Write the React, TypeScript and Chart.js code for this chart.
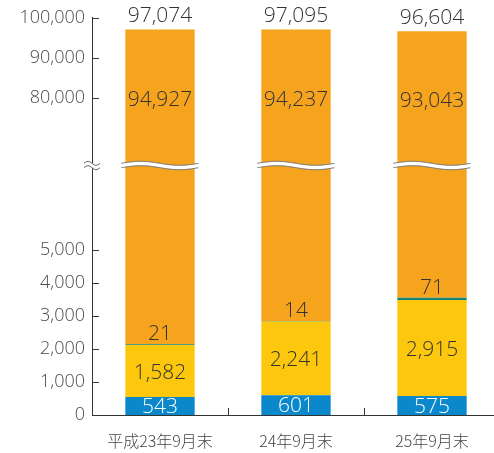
import { useEffect, useRef } from "react";
import { Chart, registerables } from "chart.js";

Chart.register(...registerables);

const categories = ["平成23年9月末", "24年9月末", "25年9月末"];
const blueValues = [543, 601, 575];
const yellowValues = [1582, 2241, 2915];
const greenValues = [21, 14, 71];
const orangeValues = [94927, 94237, 93043];
const totals = [97074, 97095, 96604];
const lowerTicks = [0, 1000, 2000, 3000, 4000, 5000];
const upperTicks = [80000, 90000, 100000];

// broken axis mapping
const LOW_MAX = 7576;
const UP_MIN = 63000;
const LOW_K = 0.033;
const UP_K = 0.004;
const BREAK_T = LOW_MAX * LOW_K;
function t(v: number): number {
  return v <= LOW_MAX ? v * LOW_K : BREAK_T + (v - UP_MIN) * UP_K;
}

const allTicks = [...lowerTicks, ...upperTicks];
const tickLabels = allTicks.map((v) => v.toLocaleString("en-US"));

const BLUE = "#0a88cb";
const YELLOW = "#fcc70d";
const GREEN = "#0f8576";
const ORANGE = "#f6a41d";
const TEXT = "#333333";
const FONT = '"Open Sans", "Noto Sans", sans-serif';

function cumulative(i: number, upto: number): number {
  const segs = [blueValues, yellowValues, greenValues, orangeValues];
  let s = 0;
  for (let k = 0; k < upto; k++) s += segs[k][i];
  return s;
}

function floating(segIndex: number, values: number[]) {
  return values.map((v, i) => {
    const start = cumulative(i, segIndex);
    return [t(start), t(start + v)];
  });
}

function drawWave(ctx: CanvasRenderingContext2D, x0: number, x1: number, yc: number) {
  const A = 2;
  const half = 2.2;
  const P = x1 - x0;
  const fy = (x: number) => yc - A * Math.sin((2 * Math.PI * (x - x0)) / P);
  ctx.save();
  ctx.beginPath();
  for (let x = x0; x <= x1; x += 1) ctx.lineTo(x, fy(x) - half);
  for (let x = x1; x >= x0; x -= 1) ctx.lineTo(x, fy(x) + half);
  ctx.closePath();
  ctx.fillStyle = "#ffffff";
  ctx.fill();
  ctx.strokeStyle = "#6d6d6d";
  ctx.lineWidth = 1;
  ctx.beginPath();
  for (let x = x0; x <= x1; x += 1) ctx.lineTo(x, fy(x) - half);
  ctx.stroke();
  ctx.beginPath();
  for (let x = x0; x <= x1; x += 1) ctx.lineTo(x, fy(x) + half);
  ctx.stroke();
  ctx.restore();
}

const overlayPlugin = {
  id: "overlay",
  afterDraw(chart: any) {
    const ctx: CanvasRenderingContext2D = chart.ctx;
    const yScale = chart.scales.y;
    const xScale = chart.scales.x;
    const area = chart.chartArea;

    // inward y ticks
    ctx.save();
    ctx.strokeStyle = "#333";
    ctx.lineWidth = 1;
    allTicks.forEach((v) => {
      if (v === 0) return;
      const y = Math.round(yScale.getPixelForValue(t(v))) + 0.5;
      ctx.beginPath();
      ctx.moveTo(area.left, y);
      ctx.lineTo(area.left + 7, y);
      ctx.stroke();
    });
    // category separators (inward)
    for (let i = 0; i < categories.length - 1; i++) {
      const x = Math.round((xScale.getPixelForValue(i) + xScale.getPixelForValue(i + 1)) / 2) + 0.5;
      ctx.beginPath();
      ctx.moveTo(x, area.bottom);
      ctx.lineTo(x, area.bottom - 7);
      ctx.stroke();
    }
    ctx.restore();

    const breakY = yScale.getPixelForValue(BREAK_T);
    const orangeMeta = chart.getDatasetMeta(3);
    orangeMeta.data.forEach((bar: any) => {
      const w = bar.width;
      drawWave(ctx, bar.x - w / 2 - 4, bar.x + w / 2 + 4, breakY);
    });
    drawWave(ctx, area.left - 8, area.left + 8, breakY);

    // labels
    ctx.save();
    ctx.textAlign = "center";
    ctx.textBaseline = "middle";
    const valFont = `300 21px ${FONT}`;
    ctx.font = valFont;
    categories.forEach((_, i) => {
      const blue = chart.getDatasetMeta(0).data[i] as any;
      const yellow = chart.getDatasetMeta(1).data[i] as any;
      const green = chart.getDatasetMeta(2).data[i] as any;
      const orange = chart.getDatasetMeta(3).data[i] as any;
      const x = blue.x;
      ctx.fillStyle = "#ffffff";
      ctx.fillText(blueValues[i].toLocaleString("en-US"), x, (blue.y + blue.base) / 2 + 1);
      ctx.fillStyle = TEXT;
      ctx.fillText(yellowValues[i].toLocaleString("en-US"), x, (yellow.y + yellow.base) / 2 + 2);
      ctx.fillText(greenValues[i].toLocaleString("en-US"), x, green.y - 10);
      ctx.fillText(orangeValues[i].toLocaleString("en-US"), x, (orange.y + breakY) / 2 + 3);
      ctx.fillText(totals[i].toLocaleString("en-US"), x, orange.y - 13);
    });
    ctx.restore();
  },
};

export default function App() {
  const ref = useRef<HTMLCanvasElement | null>(null);
  useEffect(() => {
    if (!ref.current) return;
    const common = { barPercentage: 0.51, categoryPercentage: 1, grouped: false, borderWidth: 0 };
    const chart = new Chart(ref.current, {
      type: "bar",
      data: {
        labels: categories,
        datasets: [
          { label: "blue", data: floating(0, blueValues), backgroundColor: BLUE, ...common },
          { label: "yellow", data: floating(1, yellowValues), backgroundColor: YELLOW, ...common },
          { label: "green", data: floating(2, greenValues), backgroundColor: GREEN, ...common },
          { label: "orange", data: floating(3, orangeValues), backgroundColor: ORANGE, ...common },
        ] as any,
      },
      options: {
        responsive: false,
        animation: false,
        devicePixelRatio: 1,
        layout: { padding: { top: 17, right: 0, left: 0, bottom: 0 } },
        plugins: { legend: { display: false }, tooltip: { enabled: false } },
        scales: {
          x: {
            grid: { display: false, drawTicks: false },
            border: { display: true, color: "#333", width: 1 },
            ticks: {
              color: "#444",
              font: { family: '"Noto Sans CJK JP", sans-serif', size: 16, weight: "300" as any },
              padding: 16,
            },
            afterFit(s: any) {
              s.height = 38;
            },
          },
          y: {
            min: 0,
            max: t(100000),
            afterBuildTicks(s: any) {
              s.ticks = allTicks.map((v) => ({ value: t(v) }));
            },
            ticks: {
              autoSkip: false,
              color: "#4a4a4a",
              font: { family: FONT, size: 18, weight: "300" as any },
              padding: 7,
              callback: (_v: any, i: number) => tickLabels[i],
            },
            grid: { display: false, drawTicks: false },
            border: { display: true, color: "#333", width: 1 },
            afterFit(s: any) {
              s.width = 92;
            },
          },
        },
      },
      plugins: [overlayPlugin],
    });
    return () => chart.destroy();
  }, []);
  return (
    <div
      style={{
        position: "fixed",
        left: 0,
        top: 0,
        width: 494,
        height: 453,
        overflow: "hidden",
        background: "#fff",
      }}
    >
      <canvas ref={ref} width={500} height={453} style={{ display: "block" }} />
    </div>
  );
}
